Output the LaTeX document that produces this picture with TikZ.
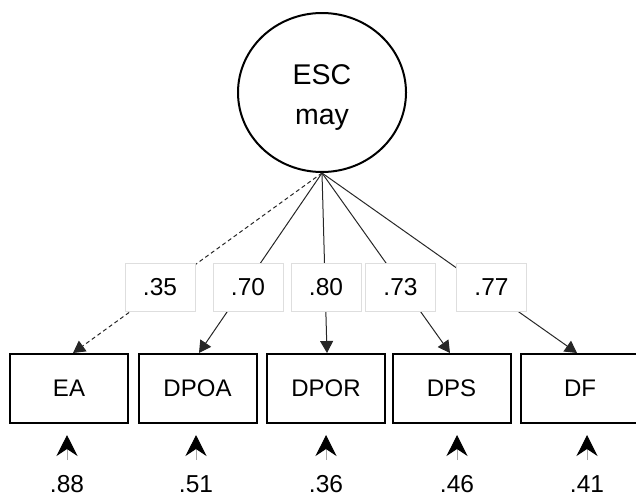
\documentclass[tikz,border=0pt]{standalone}
\usepackage{fontspec}
\setmainfont{Liberation Sans}
\usetikzlibrary{shapes.geometric,arrows.meta}

\tikzset{
  latent/.style={ellipse, draw=black, line width=2pt, minimum width=168pt,
    minimum height=159pt, inner sep=0pt},
  factortext/.style={inner sep=0pt, align=center,
    font=\fontsize{28.5}{40}\selectfont},
  observed/.style={rectangle, draw=black, line width=2pt, minimum width=118pt,
    minimum height=69pt, inner sep=0pt, font=\fontsize{24}{28}\selectfont},
  loadlabel/.style={rectangle, draw=black!13, fill=white, line width=0.8pt,
    minimum width=70pt, minimum height=48pt, inner sep=0pt,
    font=\fontsize{24.5}{28}\selectfont},
  errlabel/.style={inner sep=0pt, font=\fontsize{24.5}{28}\selectfont},
  loading/.style={draw=black!85, line width=1pt,
    -{Triangle[length=12pt,width=13pt]}},
  errarrow/.style={draw=black!35, line width=1pt,
    -{Stealth[length=21pt,width=21pt,inset=7pt,color=black]}}
}

\begin{document}
\begin{tikzpicture}[x=1pt,y=-1pt]
  \useasboundingbox (0,0) rectangle (636,498);

  % factor
  \node[latent] (esc) at (322,92.5) {};
  \node[factortext] (esclabel) at ([yshift=-5pt]esc.center) {ESC\\may};
  \coordinate (src) at (esc.south);

  % indicators
  \node[observed] (ea)   at (69,388.5)  {EA};
  \node[observed] (dpoa) at (197.5,388.5) {DPOA};
  \node[observed] (dpor) at (326,388.5) {DPOR};
  \node[observed] (dps)  at (451.5,388.5) {DPS};
  \node[observed] (df)   at (580,388.5) {DF};

  % loadings
  \draw[loading, dashed, dash pattern=on 4pt off 3pt] (src) -- ([xshift=4pt]ea.north);
  \draw[loading] (src) -- ([xshift=1.5pt]dpoa.north);
  \draw[loading] (src) -- ([xshift=1pt]dpor.north);
  \draw[loading] (src) -- ([xshift=-1.5pt]dps.north);
  \draw[loading] (src) -- ([xshift=-3pt]df.north);

  % loading values
  \node[loadlabel] (l1) at (160,287)   {.35};
  \node[loadlabel] (l2) at (248,287)   {.70};
  \node[loadlabel] (l3) at (326,287)   {.80};
  \node[loadlabel] (l4) at (400.5,287) {.73};
  \node[loadlabel] (l5) at (491.5,287) {.77};

  % residual values and their arrows
  \node[errlabel] (e1) at (67,484)  {.88};
  \node[errlabel] (e2) at (196,484) {.51};
  \node[errlabel] (e3) at (326,484) {.36};
  \node[errlabel] (e4) at (457,484) {.46};
  \node[errlabel] (e5) at (587,484) {.41};

  \foreach \e in {e1,e2,e3,e4,e5}{
    \coordinate (\e s) at ([yshift=24pt]\e.center);
    \coordinate (\e t) at ([yshift=49pt]\e.center);
    \draw[errarrow] (\e s) -- (\e t);
  }
\end{tikzpicture}
\end{document}
